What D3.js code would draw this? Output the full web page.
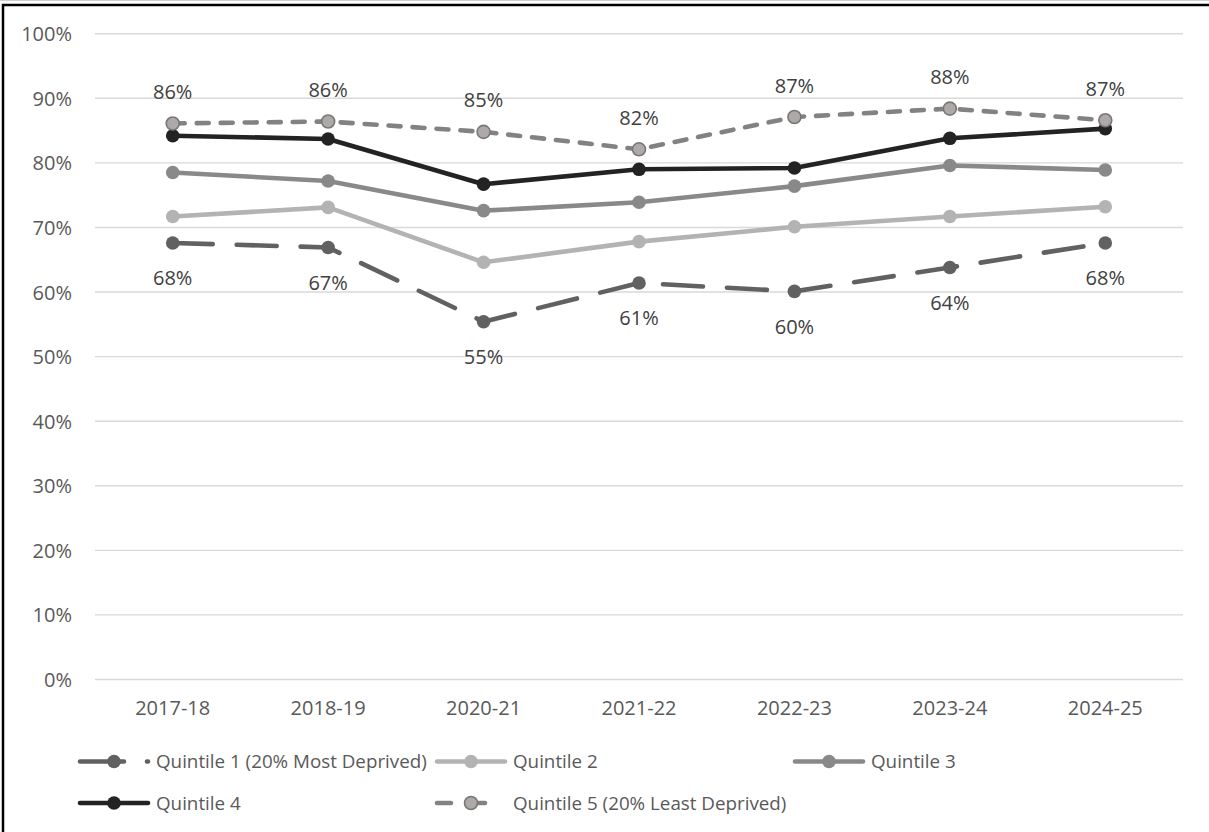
<!DOCTYPE html>
<html>
<head>
<meta charset="utf-8">
<script src="https://cdn.jsdelivr.net/npm/d3@7"></script>
<style>
  html, body { margin: 0; padding: 0; background: #fff; }
  svg { display: block; font-family: "Open Sans", "DejaVu Sans", sans-serif; }
</style>
</head>
<body>
<svg id="chart" width="1209" height="832"></svg>
<script>
// Academic years on the category axis
const years = ["2017-18", "2018-19", "2020-21", "2021-22", "2022-23", "2023-24", "2024-25"];

// Share of pupils per deprivation quintile (fractions)
const quintile1 = [0.676, 0.669, 0.554, 0.614, 0.601, 0.638, 0.676];
const quintile2 = [0.717, 0.731, 0.646, 0.678, 0.701, 0.717, 0.732];
const quintile3 = [0.785, 0.772, 0.726, 0.739, 0.764, 0.796, 0.789];
const quintile4 = [0.842, 0.837, 0.767, 0.790, 0.792, 0.838, 0.853];
const quintile5 = [0.861, 0.864, 0.848, 0.821, 0.871, 0.884, 0.866];

const yTicks = [0, 0.1, 0.2, 0.3, 0.4, 0.5, 0.6, 0.7, 0.8, 0.9, 1.0];

const seriesNames = [
  "Quintile 1 (20% Most Deprived)",
  "Quintile 2",
  "Quintile 3",
  "Quintile 4",
  "Quintile 5 (20% Least Deprived)"
];

const series = [
  { name: seriesNames[0], values: quintile1, stroke: "#616161", dash: "40,24", legendDash: "44,23", fill: "#616161", ring: null, label: "below" },
  { name: seriesNames[1], values: quintile2, stroke: "#b3b3b3", dash: null, legendDash: null, fill: "#b3b3b3", ring: null, label: null },
  { name: seriesNames[2], values: quintile3, stroke: "#898989", dash: null, legendDash: null, fill: "#898989", ring: null, label: null },
  { name: seriesNames[3], values: quintile4, stroke: "#232323", dash: null, legendDash: null, fill: "#232323", ring: null, label: null },
  { name: seriesNames[4], values: quintile5, stroke: "#828282", dash: "12,12", legendDash: "14,20", fill: "#ada9a9", ring: "#7a7676", label: "above" }
];

const svg = d3.select("#chart");
const W = 1209, H = 832;

// Frame around the chart area
svg.append("line").attr("x1", 0).attr("x2", W).attr("y1", 0.5).attr("y2", 0.5)
  .attr("stroke", "#d0d0d0").attr("stroke-width", 1);
svg.append("rect").attr("x", 3).attr("y", 5).attr("width", W + 10).attr("height", H + 10)
  .attr("fill", "none").attr("stroke", "#000").attr("stroke-width", 2.5);

const x = d3.scaleBand().domain(years).range([95, 1183]);
const xc = d => x(d) + x.bandwidth() / 2;
const y = d3.scaleLinear().domain([0, 1]).range([679.5, 33.7]);

// Horizontal gridlines
svg.append("g").selectAll("line").data(yTicks).join("line")
  .attr("x1", 95).attr("x2", 1183)
  .attr("y1", d => y(d)).attr("y2", d => y(d))
  .attr("stroke", "#d9d9d9").attr("stroke-width", 1.4);

// Y axis labels
const yAxis = d3.axisLeft(y).tickValues(yTicks).tickFormat(d3.format(".0%")).tickSize(0).tickPadding(0);
const gy = svg.append("g").attr("transform", "translate(72,0)").call(yAxis);
gy.select(".domain").remove();
gy.selectAll("text").attr("font-size", 20).attr("fill", "#595959")
  .attr("font-family", "'Open Sans', sans-serif").attr("dy", "0.35em");

// X axis labels
const xAxis = d3.axisBottom(x).tickSize(0).tickPadding(0);
const gx = svg.append("g").attr("transform", "translate(0,701)").call(xAxis);
gx.select(".domain").remove();
gx.selectAll("text").attr("font-size", 20).attr("fill", "#595959")
  .attr("font-family", "'Open Sans', sans-serif").attr("dy", "0.71em");

const line = d3.line().x((d, i) => xc(years[i])).y(d => y(d));
const pct = d3.format(".0%");

series.forEach(s => {
  const g = svg.append("g");
  g.append("path").datum(s.values)
    .attr("d", line)
    .attr("fill", "none")
    .attr("stroke", s.stroke)
    .attr("stroke-width", 4.6)
    .attr("stroke-linejoin", "round")
    .attr("stroke-linecap", "round")
    .attr("stroke-dasharray", s.dash);
  g.selectAll("circle").data(s.values).join("circle")
    .attr("cx", (d, i) => xc(years[i]))
    .attr("cy", d => y(d))
    .attr("r", s.ring ? 6.5 : 6.8)
    .attr("fill", s.fill)
    .attr("stroke", s.ring || "none")
    .attr("stroke-width", s.ring ? 1.6 : 0);
  if (s.label) {
    g.selectAll("text").data(s.values).join("text")
      .attr("x", (d, i) => xc(years[i]))
      .attr("y", d => y(d) + (s.label === "above" ? -24.5 : 42.5))
      .attr("text-anchor", "middle")
      .attr("font-size", 20)
      .attr("fill", "#404040")
      .text(d => pct(d));
  }
});

// Legend: two rows, three columns
const legendPos = [
  { x: 78, y: 761.5 }, { x: 435, y: 761.5 }, { x: 793, y: 761.5 },
  { x: 78, y: 803 }, { x: 435, y: 803 }
];
const sampleLen = 72;
series.forEach((s, i) => {
  const p = legendPos[i];
  const g = svg.append("g").attr("transform", `translate(${p.x},${p.y})`);
  g.append("line").attr("x1", 2).attr("x2", sampleLen - 2).attr("y1", 0).attr("y2", 0)
    .attr("stroke", s.stroke).attr("stroke-width", 4.6)
    .attr("stroke-linecap", "round")
    .attr("stroke-dasharray", s.legendDash);
  g.append("circle").attr("cx", sampleLen / 2).attr("cy", 0)
    .attr("r", s.ring ? 6.5 : 6.8)
    .attr("fill", s.fill)
    .attr("stroke", s.ring || "none")
    .attr("stroke-width", s.ring ? 1.6 : 0);
  g.append("text").attr("x", sampleLen + 6).attr("y", 0).attr("dy", "0.35em")
    .attr("font-size", 18.8).attr("fill", "#595959").text(s.name);
});
</script>
</body>
</html>
